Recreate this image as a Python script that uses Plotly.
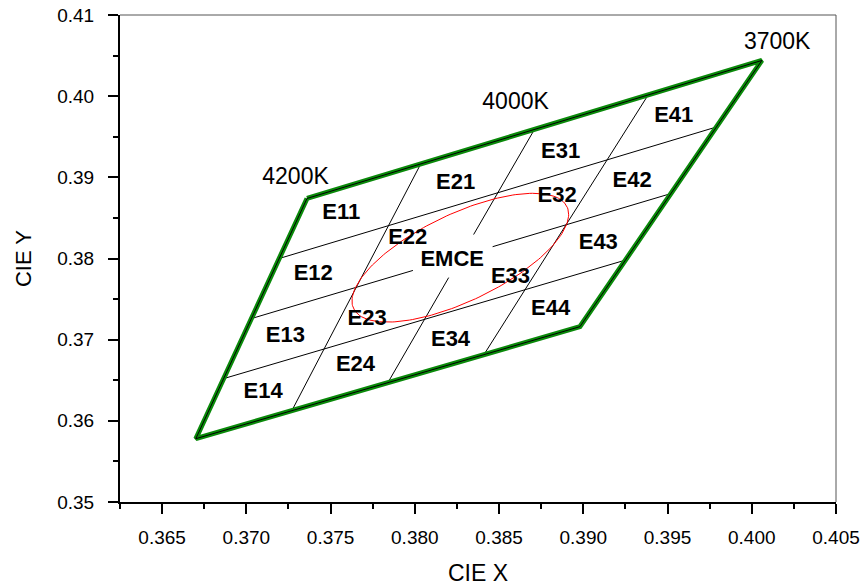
import numpy as np
import plotly.graph_objects as go

# Quadrangle corners (CIE x, y): TL(4200K), TR(3700K), BR, BL
corner_x = [0.3736, 0.4006, 0.3898, 0.3670]
corner_y = [0.3874, 0.4044, 0.3716, 0.3578]

# Interior grid lines as bilinear-parameter segments
# vertical-ish lines (constant u): u, v_start, v_end
vert_u = [0.25, 0.5, 0.5, 0.75]
vert_v0 = [0.0, 0.0, 0.585, 0.0]
vert_v1 = [1.0, 0.415, 1.0, 1.0]
# horizontal-ish lines (constant v): v, u_start, u_end
horz_v = [0.25, 0.5, 0.5, 0.75]
horz_u0 = [0.0, 0.0, 0.575, 0.0]
horz_u1 = [1.0, 0.385, 1.0, 1.0]

# MacAdam-style ellipse
ell_cx, ell_cy = 0.3827, 0.3801
ell_a, ell_b, ell_theta = 0.00939, 0.00402, 53.72

# Region labels
bin_names = ["E11", "E21", "E31", "E41", "E12", "E22", "EMCE", "E32", "E42",
             "E13", "E23", "E33", "E43", "E14", "E24", "E34", "E44"]
bin_x = [0.37563, 0.38242, 0.38865, 0.39537, 0.37397, 0.37958, 0.38222, 0.38845, 0.39290,
         0.37232, 0.37717, 0.38568, 0.39089, 0.37100, 0.37648, 0.38212, 0.38806]
bin_y = [0.38558, 0.38920, 0.39311, 0.39751, 0.37809, 0.38249, 0.37981, 0.38763, 0.38948,
         0.37034, 0.37249, 0.37768, 0.38188, 0.36343, 0.36677, 0.36994, 0.37373]

cct_names = ["4200K", "4000K", "3700K"]
cct_x = [0.37292, 0.38598, 0.40151]
cct_y = [0.38990, 0.39907, 0.40657]

x_ticks = [0.365, 0.370, 0.375, 0.380, 0.385, 0.390, 0.395, 0.400, 0.405]
y_ticks = [0.35, 0.36, 0.37, 0.38, 0.39, 0.40, 0.41]

TL = np.array([corner_x[0], corner_y[0]])
TR = np.array([corner_x[1], corner_y[1]])
BR = np.array([corner_x[2], corner_y[2]])
BL = np.array([corner_x[3], corner_y[3]])


def bil(u, v):
    return (1 - u) * (1 - v) * TL + u * (1 - v) * TR + u * v * BR + (1 - u) * v * BL


fig = go.Figure()

# grid lines
gx, gy = [], []
for u, a, b in zip(vert_u, vert_v0, vert_v1):
    p, q = bil(u, a), bil(u, b)
    gx += [p[0], q[0], None]
    gy += [p[1], q[1], None]
for v, a, b in zip(horz_v, horz_u0, horz_u1):
    p, q = bil(a, v), bil(b, v)
    gx += [p[0], q[0], None]
    gy += [p[1], q[1], None]
fig.add_trace(go.Scatter(x=gx, y=gy, mode="lines", line=dict(color="black", width=1),
                         hoverinfo="skip", showlegend=False))

# ellipse
t = np.linspace(0, 2 * np.pi, 200)
th = np.deg2rad(ell_theta)
ex = ell_cx + ell_a * np.cos(t) * np.cos(th) - ell_b * np.sin(t) * np.sin(th)
ey = ell_cy + ell_a * np.cos(t) * np.sin(th) + ell_b * np.sin(t) * np.cos(th)
fig.add_trace(go.Scatter(x=ex, y=ey, mode="lines", line=dict(color="red", width=1),
                         hoverinfo="skip", showlegend=False))

# quadrangle border
qx = corner_x + [corner_x[0]]
qy = corner_y + [corner_y[0]]
fig.add_trace(go.Scatter(x=qx, y=qy, mode="lines", line=dict(color="#0a8a0a", width=5),
                         hoverinfo="skip", showlegend=False))
fig.add_trace(go.Scatter(x=qx, y=qy, mode="lines", line=dict(color="black", width=1),
                         hoverinfo="skip", showlegend=False))

FONT = "Liberation Sans, Arial, sans-serif"
# labels
fig.add_trace(go.Scatter(x=bin_x, y=bin_y, mode="text", text=["<b>%s</b>" % s for s in bin_names],
                         textfont=dict(family=FONT, size=22, color="black"),
                         hoverinfo="skip", showlegend=False))
fig.add_trace(go.Scatter(x=cct_x, y=cct_y, mode="text", text=cct_names,
                         textfont=dict(family=FONT, size=23, color="black"),
                         hoverinfo="skip", showlegend=False))

axis_common = dict(showgrid=False, zeroline=False, showline=True, linecolor="black", linewidth=2,
                   ticks="outside", ticklen=10, tickwidth=2, tickcolor="black",
                   tickfont=dict(family=FONT, size=19, color="black"),
                   mirror=False, automargin=False)

fig.update_xaxes(range=[0.3625, 0.405], tickvals=x_ticks,
                 ticktext=["%.3f" % v for v in x_ticks],
                 minor=dict(ticks="outside", ticklen=5, tickwidth=2, tickcolor="black", dtick=0.0025,
                            tick0=0.3625),
                 title=dict(text="CIE X", font=dict(family=FONT, size=23, color="black"),
                            standoff=18),
                 ticklabelstandoff=7, **axis_common)
fig.update_yaxes(range=[0.35, 0.41], tickvals=y_ticks,
                 ticktext=["%.2f" % v for v in y_ticks],
                 minor=dict(ticks="outside", ticklen=5, tickwidth=2, tickcolor="black", dtick=0.005,
                            tick0=0.35),
                 title=dict(text="CIE Y", font=dict(family=FONT, size=22, color="black"),
                            standoff=20),
                 ticklabelstandoff=10, **axis_common)

# top and right frame lines
fig.add_shape(type="line", xref="paper", yref="paper", x0=0, x1=1, y0=1, y1=1,
              line=dict(color="#555555", width=1))
fig.add_shape(type="line", xref="paper", yref="paper", x0=1, x1=1, y0=0, y1=1,
              line=dict(color="#555555", width=1))

fig.update_layout(width=864, height=587, margin=dict(l=120, r=28, t=15, b=85),
                  plot_bgcolor="white", paper_bgcolor="white", showlegend=False)

fig.write_html("out.html", config={"displayModeBar": False},
               post_script="document.body.style.margin='0px';")
